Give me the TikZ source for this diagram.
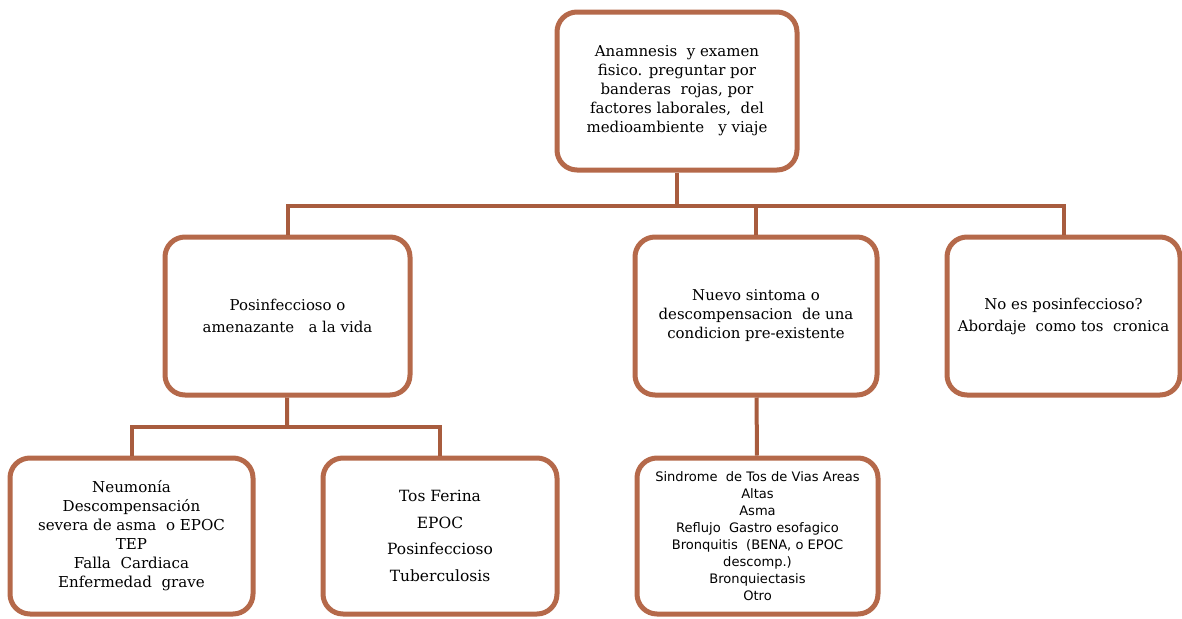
\documentclass[tikz,border=0pt]{standalone}
\usepackage{xcolor}
\usepackage{fontspec}
\setmainfont{DejaVu Serif}
\newfontfamily\listfont{DejaVu Sans}
\usepackage{tikz}
\usetikzlibrary{positioning, calc}

\definecolor{boxbrown}{RGB}{181,105,74}
\definecolor{linkbrown}{RGB}{168,92,62}

\begin{document}
\begin{tikzpicture}[
    x=0.75pt, y=-0.75pt,
    box/.style={rectangle, draw=boxbrown, line width=3.75pt, rounded corners=15pt, align=center, fill=white, inner sep=4pt},
    link/.style={draw=linkbrown, line width=3pt}
]
    \useasboundingbox (0,0) rectangle (1182,618);

    \node[box, minimum width=180pt, minimum height=118.5pt, font=\fontsize{11.25}{14.25}\selectfont] (anamnesis) at (677,91)
        {Anamnesis\ \ y examen\\fisico. preguntar por\\banderas\ \ rojas, por\\factores laborales,\ \ del\\medioambiente\ \ \ y viaje};
    \node[box, minimum width=183.75pt, minimum height=118.5pt, font=\fontsize{11.2}{16.5}\selectfont] (posinf) at (287.5,316)
        {Posinfeccioso o\\amenazante\ \ \ a la vida};
    \node[box, minimum width=181.5pt, minimum height=118.5pt, font=\fontsize{11.2}{14.25}\selectfont] (nuevo) at (756,316)
        {Nuevo sintoma o\\descompensacion\ \ de una\\condicion pre-existente};
    \node[box, minimum width=174.75pt, minimum height=118.5pt, font=\fontsize{11.2}{16.5}\selectfont] (noposinf) at (1063.5,316)
        {No es posinfeccioso?\\Abordaje\ \ como tos\ \ cronica};
    \node[box, minimum width=182.25pt, minimum height=117pt, font=\fontsize{11.3}{14.25}\selectfont] (graves) at (131.5,536)
        {Neumonía\\Descompensación\\severa de asma\ \ o EPOC\\TEP\\Falla\ \ Cardiaca\\Enfermedad\ \ grave};
    \node[box, minimum width=175.5pt, minimum height=117pt, font=\fontsize{11.6}{20}\selectfont] (tosferina) at (440,536)
        {Tos Ferina\\EPOC\\Posinfeccioso\\Tuberculosis};
    \node[box, minimum width=180.75pt, minimum height=117pt, font=\listfont\fontsize{9.8}{12.75}\selectfont] (sindrome) at (757.5,536)
        {Sindrome\ \ de Tos de Vias Areas\\Altas\\Asma\\Reflujo\ \ Gastro esofagico\\Bronquitis\ \ (BENA, o EPOC\\descomp.)\\Bronquiectasis\\Otro};

    \coordinate (bus) at (677,206);
    \coordinate (bus2) at (287,427);

    \draw[link] (anamnesis) -- (bus);
    \draw[link] (bus) -| (posinf);
    \draw[link] (bus) -| (nuevo);
    \draw[link] (bus) -| (noposinf);
    \draw[link] (posinf) -- (bus2);
    \draw[link] (bus2) -| (graves);
    \draw[link] (bus2) -| (tosferina);
    \draw[link] (nuevo) -- (sindrome);
\end{tikzpicture}
\end{document}
